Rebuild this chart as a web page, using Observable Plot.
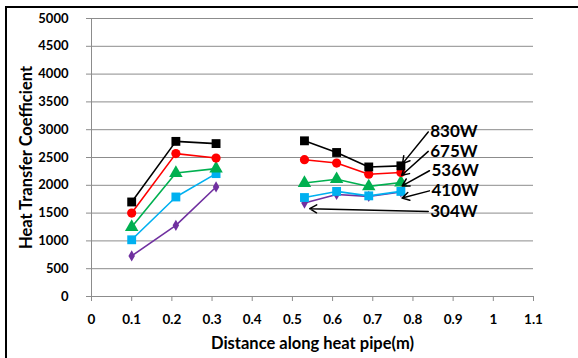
<!DOCTYPE html>
<html>
<head>
<meta charset="utf-8">
<script src="https://cdn.jsdelivr.net/npm/d3@7"></script>
<script src="https://cdn.jsdelivr.net/npm/@observablehq/plot@0.6"></script>
<style>
  html, body { margin: 0; padding: 0; background: #fff; }
  #wrap { position: relative; width: 578px; height: 358px; overflow: hidden; background: #fff; }
  #frame { position: absolute; left: 5px; top: 6px; width: 700px; height: 500px;
           border: 2px solid #000; box-shadow: 1px 1px 1px #aaa; box-sizing: border-box; }
  #chart { position: absolute; left: 0; top: 0; }
  #chart svg { font-family: Lato, "Open Sans", sans-serif; }
</style>
</head>
<body>
<div id="wrap"><div id="frame"></div><div id="chart"></div></div>
<script>
// Measurement positions along the heat pipe (m): evaporator and condenser sections
const xEvap = [0.1, 0.21, 0.31];
const xCond = [0.53, 0.61, 0.69, 0.77];

// Heat input levels
const seriesNames = ["830W", "675W", "536W", "410W", "304W"];
const seriesColors = ["#000000", "#ff0000", "#00b050", "#00b0f0", "#7030a0"];
const seriesSymbols = ["square", "circle", "triangle", "square", "diamond"];
const seriesSizes = [5, 4.6, 5, 5, 3.4];

// Heat transfer coefficient, evaporator section
const hEvap = [
  [1700, 2790, 2750],
  [1500, 2570, 2490],
  [1250, 2220, 2300],
  [1020, 1790, 2210],
  [730, 1280, 1970]
];
// Heat transfer coefficient, condenser section
const hCond = [
  [2800, 2590, 2330, 2350],
  [2460, 2400, 2200, 2230],
  [2040, 2110, 1980, 2050],
  [1780, 1890, 1810, 1890],
  [1680, 1835, 1800, 1880]
];

// Callout labels: label anchor (x, y) and arrow target (tx, ty), in data units
const callouts = [
  {label: "830W", x: 0.838, y: 2960, tx: 0.774, ty: 2390},
  {label: "675W", x: 0.838, y: 2610, tx: 0.772, ty: 2180},
  {label: "536W", x: 0.841, y: 2262, tx: 0.773, ty: 1990},
  {label: "410W", x: 0.841, y: 1900, tx: 0.773, ty: 1770},
  {label: "304W", x: 0.838, y: 1530, tx: 0.543, ty: 1580}
];

const xTicks = d3.range(0, 1.11, 0.1).map(v => +v.toFixed(1));
const yTicks = d3.range(0, 5001, 500);

const rows = [];
seriesNames.forEach((name, i) => {
  xEvap.forEach((x, j) => rows.push({series: name, seg: name + "-e", x, h: hEvap[i][j]}));
  xCond.forEach((x, j) => rows.push({series: name, seg: name + "-c", x, h: hCond[i][j]}));
});

const colorOf = Object.fromEntries(seriesNames.map((n, i) => [n, seriesColors[i]]));
const symbolOf = Object.fromEntries(seriesNames.map((n, i) => [n, seriesSymbols[i]]));
const sizeOf = Object.fromEntries(seriesNames.map((n, i) => [n, seriesSizes[i]]));

// Draw bottom series first so the higher-power series sit on top
const order = [...seriesNames].reverse();
const lineMarks = order.map(name => Plot.line(rows.filter(d => d.series === name), {
  x: "x", y: "h", z: "seg", stroke: colorOf[name], strokeWidth: 1.6
}));
const dotMarks = order.map(name => Plot.dot(rows.filter(d => d.series === name), {
  x: "x", y: "h", symbol: () => symbolOf[name], r: sizeOf[name], fill: colorOf[name], stroke: "none"
}));

const chart = Plot.plot({
  width: 578,
  height: 358,
  marginLeft: 91,
  marginRight: 45,
  marginTop: 18,
  marginBottom: 62,
  style: {fontFamily: "Lato, 'Open Sans', sans-serif", background: "transparent"},
  x: {domain: [0, 1.1]},
  y: {domain: [0, 5000]},
  symbol: {type: "identity"},
  marks: [
    Plot.gridY(yTicks, {stroke: "#8c8c8c", strokeOpacity: 1, strokeWidth: 1}),
    Plot.ruleX([0], {stroke: "#8c8c8c"}),
    Plot.axisY(yTicks, {
      tickSize: 5, tickPadding: 18, stroke: "#8c8c8c", fill: "#000",
      fontSize: 13, fontWeight: "bold", tickFormat: d => String(d),
      label: "Heat Transfer Coefficient", labelAnchor: "center", labelArrow: "none",
      labelOffset: 71
    }),
    Plot.axisX(xTicks, {
      tickSize: 5, tickPadding: 13, stroke: "#8c8c8c", fill: "#000",
      fontSize: 13.5, fontWeight: "bold", tickFormat: d => String(d),
      label: "Distance along heat pipe(m)", labelAnchor: "center", labelArrow: "none",
      labelOffset: 52
    }),
    Plot.ruleY([0], {stroke: "#8c8c8c"}),
    ...lineMarks,
    ...dotMarks,
    Plot.arrow(callouts, {
      x1: "x", y1: "y", x2: "tx", y2: "ty", stroke: "#000", strokeWidth: 1.5,
      headLength: 8, insetStart: 0, insetEnd: 0
    }),
    Plot.text(callouts, {
      x: "x", y: "y", text: "label", textAnchor: "start", dx: 2,
      fontSize: 17, fontWeight: "bold", fill: "#000"
    })
  ]
});

// Axis titles are bold and larger than the tick labels
d3.select(chart).selectAll("[aria-label$='axis label'] text, [aria-label$='axis label']")
  .attr("font-size", 16.5).attr("font-weight", "bold");

document.getElementById("chart").appendChild(chart);
</script>
</body>
</html>
